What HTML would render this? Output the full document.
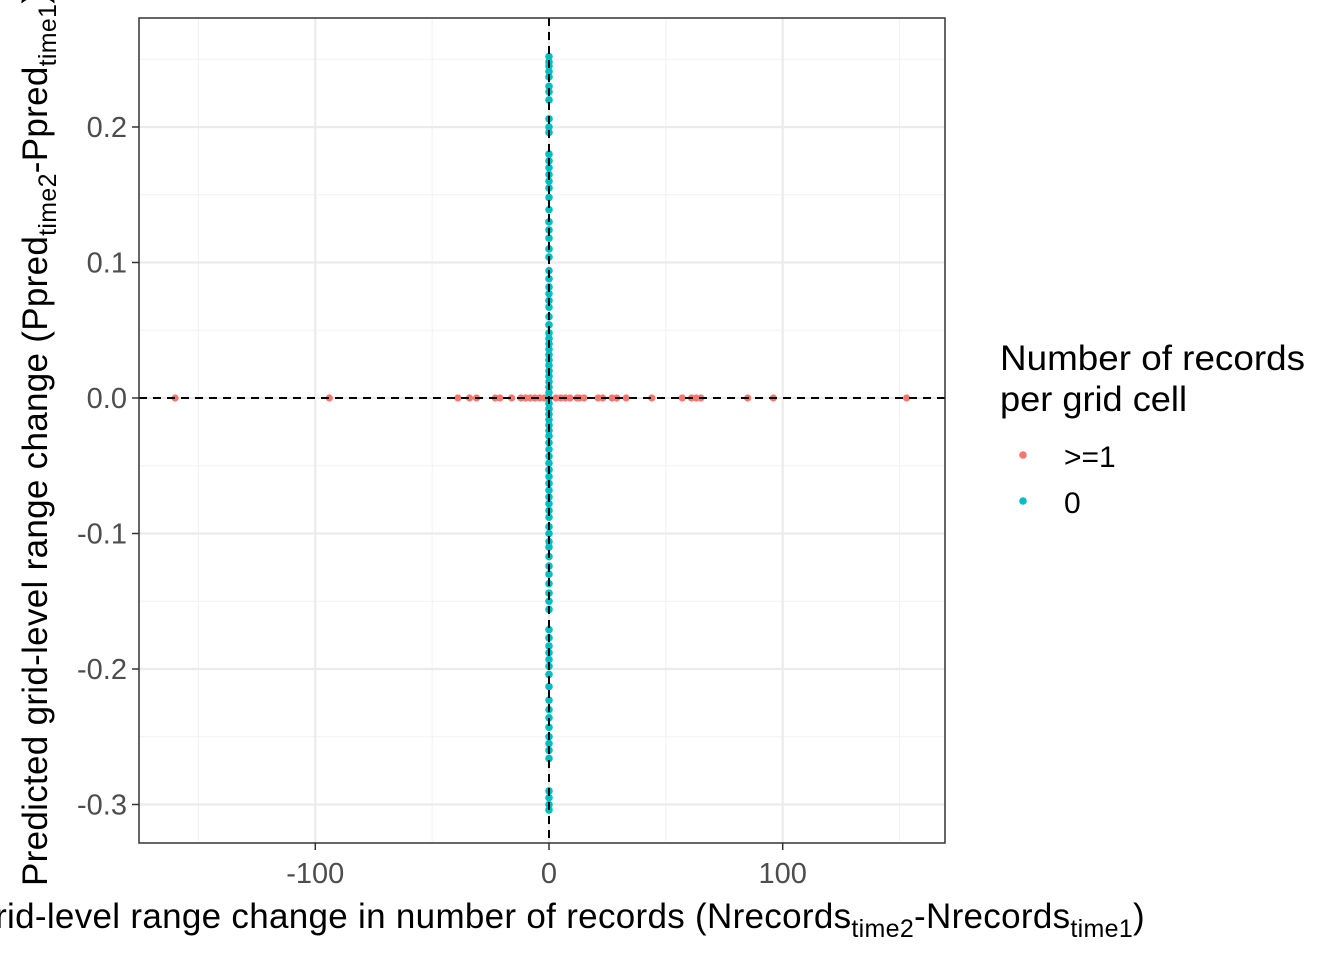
<!DOCTYPE html>
<html><head><meta charset="utf-8"><style>body{margin:0;background:#fff}svg{display:block;font-family:"Liberation Sans",Arial,sans-serif}</style></head>
<body>
<svg id="chart" width="1344" height="960" viewBox="0 0 1344 960" xmlns="http://www.w3.org/2000/svg">
<g id="grid"></g>
<g id="marks"></g>
<g id="axes"></g>
<text x="1145" y="928" font-size="35" letter-spacing="0.3" text-anchor="end" fill="#000">Grid-level range change in number of records (Nrecords<tspan font-size="25" dy="9">time2</tspan><tspan dy="-9">-Nrecords</tspan><tspan font-size="25" dy="9">time1</tspan><tspan dy="-9">)</tspan></text>
<text transform="translate(47,886) rotate(-90)" font-size="35" letter-spacing="0.3" fill="#000">Predicted grid-level range change (Ppred<tspan font-size="25" dy="9">time2</tspan><tspan dy="-9">-Ppred</tspan><tspan font-size="25" dy="9">time1</tspan><tspan dy="-9">)</tspan></text>
<g>
<text x="1000" y="370" font-size="35" textLength="305" lengthAdjust="spacingAndGlyphs">Number of records</text>
<text x="1000" y="411" font-size="35" textLength="187" lengthAdjust="spacingAndGlyphs">per grid cell</text>
<circle cx="1023" cy="455" r="3.8" fill="#F8766D"/>
<text x="1064" y="467" font-size="30">&gt;=1</text>
<circle cx="1023" cy="501" r="3.8" fill="#00BFC4"/>
<text x="1064" y="513" font-size="30">0</text>
</g>
</svg>
<script>
const xTicks=[-100,0,100];
const yTicks=[-0.3,-0.2,-0.1,0.0,0.1,0.2];
const yTickLabels=["-0.3","-0.2","-0.1","0.0","0.1","0.2"];
const redX=[-160,-94,-39,-34,-31,-23,-21,-16,-12,-10,-8,-6,-4,-2,3,5,7,9,12,13,15,21,23,27,29,33,44,57,61,63,65,85,96,153];
const cyanY=[0.252,0.248,0.245,0.241,0.237,0.23,0.226,0.22,0.206,0.2,0.196,0.18,0.175,0.17,0.165,0.16,0.155,0.148,0.139,0.13,0.124,0.118,0.11,0.104,0.094,0.088,0.082,0.077,0.072,0.067,0.06,0.054,0.048,
0.044,0.04,0.036,0.032,0.028,0.024,0.02,0.016,0.012,0.008,0.004,0,-0.004,-0.008,-0.012,-0.016,-0.02,-0.024,-0.028,-0.033,-0.038,-0.043,-0.048,-0.053,-0.058,-0.063,-0.068,-0.073,-0.078,-0.083,-0.088,-0.095,
-0.1,-0.106,-0.11,-0.117,-0.124,-0.13,-0.137,-0.144,-0.15,-0.156,-0.171,-0.177,-0.183,-0.188,-0.193,-0.198,-0.204,-0.213,-0.223,-0.23,-0.236,-0.243,-0.25,-0.255,-0.26,-0.266,-0.29,-0.295,-0.3,-0.304];
const L=139,R=945,T=18,B=843;
const sx=v=>549+v*2.337;
const sy=v=>398-v*1355;
const NS="http://www.w3.org/2000/svg";
function mk(tag,attrs,parent){const e=document.createElementNS(NS,tag);for(const k in attrs)e.setAttribute(k,attrs[k]);parent.appendChild(e);return e;}
const grid=document.getElementById('grid'),marks=document.getElementById('marks'),axes=document.getElementById('axes');
mk('rect',{x:L,y:T,width:R-L,height:B-T,fill:'#fff'},grid);
[-150,-50,50,150].forEach(v=>{const l=mk('line',{x1:sx(v),x2:sx(v),y1:T,y2:B,stroke:'#f2f2f2','stroke-width':1},grid);

});
[-0.25,-0.15,-0.05,0.05,0.15,0.25].forEach(v=>{const l=mk('line',{x1:L,x2:R,y1:sy(v),y2:sy(v),stroke:'#f2f2f2','stroke-width':1},grid);

});
xTicks.forEach(v=>{const l=mk('line',{x1:sx(v),x2:sx(v),y1:T,y2:B,stroke:'#ebebeb','stroke-width':2.2},grid);


const t=mk('line',{x1:sx(v),x2:sx(v),y1:B,y2:B+7,stroke:'#333','stroke-width':1.5},axes);


const tx=mk('text',{x:sx(v),y:B+40,'font-size':29,'text-anchor':'middle',fill:'#4d4d4d'},axes);tx.textContent=String(v);

});
yTicks.forEach((v,i)=>{const l=mk('line',{x1:L,x2:R,y1:sy(v),y2:sy(v),stroke:'#ebebeb','stroke-width':2.2},grid);


const t=mk('line',{x1:L-7,x2:L,y1:sy(v),y2:sy(v),stroke:'#333','stroke-width':1.5},axes);


const tx=mk('text',{x:L-12,y:sy(v)+10,'font-size':29,'text-anchor':'end',fill:'#4d4d4d'},axes);tx.textContent=yTickLabels[i];

});
redX.forEach(v=>{const c=mk('circle',{cx:sx(v),cy:sy(0),r:3.6,fill:'#F8766D'},marks);

});
cyanY.forEach(v=>{const c=mk('circle',{cx:sx(0),cy:sy(v),r:3.8,fill:'#00BFC4'},marks);

});
const h=mk('line',{x1:L,x2:R,y1:sy(0),y2:sy(0),stroke:'#000','stroke-width':2,'stroke-dasharray':'8,6'},axes);


const vl=mk('line',{x1:sx(0),x2:sx(0),y1:T,y2:B,stroke:'#000','stroke-width':2,'stroke-dasharray':'8,6'},axes);


const fr=mk('rect',{x:L,y:T,width:R-L,height:B-T,fill:'none',stroke:'#333','stroke-width':1.5},axes);


</script>
</body></html>
